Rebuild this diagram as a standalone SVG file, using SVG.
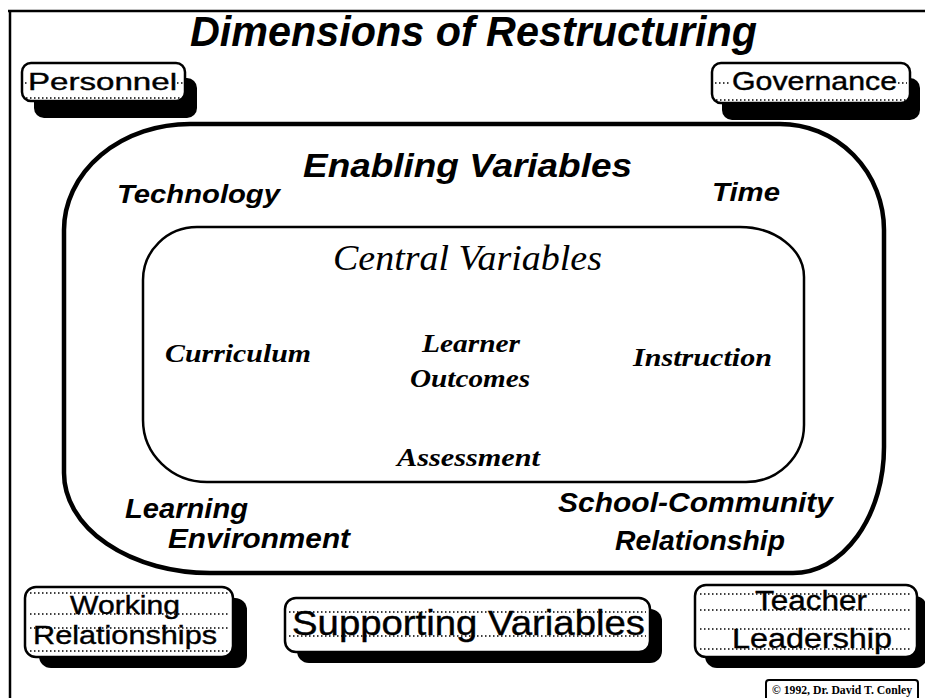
<svg xmlns="http://www.w3.org/2000/svg" width="925" height="698" viewBox="0 0 925 698">
  <style>
    .frame { fill: none; stroke: #000; stroke-width: 2.5; }
    .outer { fill: none; stroke: #000; stroke-width: 4.5; }
    .inner { fill: none; stroke: #000; stroke-width: 2.5; }
    .shadow { fill: #000; }
    .box { fill: #fff; stroke: #000; stroke-width: 2.5; }
    .dots { fill: none; stroke: #000; stroke-width: 1.4; stroke-dasharray: 1.5 2.5; }
    .sansbi { font-family: "Liberation Sans", Arial, sans-serif; font-weight: bold; font-style: italic; fill: #000; }
    .serifi { font-family: "Liberation Serif", "Times New Roman", serif; font-style: italic; fill: #000; }
    .serifbi { font-family: "Liberation Serif", "Times New Roman", serif; font-weight: bold; font-style: italic; fill: #000; }
    .label { font-family: "Liberation Sans", Arial, sans-serif; fill: #000; stroke: #000; stroke-width: 0.4; }
    .copy { font-family: "Liberation Serif", "Times New Roman", serif; font-weight: bold; fill: #000; }
  </style>

  <rect width="925" height="698" fill="#fff"/>

  <!-- page frame -->
  <path class="frame" d="M 8 11 H 925 M 10 10 V 698"/>

  <!-- title -->
  <text id="title" class="sansbi" x="190" y="46" font-size="42" textLength="567" lengthAdjust="spacingAndGlyphs">Dimensions of Restructuring</text>

  <!-- enabling variables ring -->
  <g id="enabling">
    <path class="outer" d="M 190 124 H 780 A 104 106 0 0 1 884 230 V 447 A 91 126 0 0 1 793 573 H 210 A 146 100 0 0 1 64 473 V 230 A 126 106 0 0 1 190 124 Z"/>
    <text class="sansbi" x="303" y="177" font-size="34" textLength="329" lengthAdjust="spacingAndGlyphs">Enabling Variables</text>
    <text class="sansbi" x="117" y="203" font-size="26" textLength="163" lengthAdjust="spacingAndGlyphs">Technology</text>
    <text class="sansbi" x="712" y="201" font-size="26" textLength="68" lengthAdjust="spacingAndGlyphs">Time</text>
    <text class="sansbi" x="125" y="518" font-size="28" textLength="123" lengthAdjust="spacingAndGlyphs">Learning</text>
    <text class="sansbi" x="168" y="548" font-size="28" textLength="182" lengthAdjust="spacingAndGlyphs">Environment</text>
    <text class="sansbi" x="558" y="512" font-size="28" textLength="275" lengthAdjust="spacingAndGlyphs">School-Community</text>
    <text class="sansbi" x="615" y="550" font-size="28" textLength="170" lengthAdjust="spacingAndGlyphs">Relationship</text>
  </g>

  <!-- central variables -->
  <g id="central">
    <path class="inner" d="M 197 227 H 740 A 64 50 0 0 1 804 277 V 425 A 58 57 0 0 1 746 482 H 207 A 64 62 0 0 1 143 420 V 280 A 54 53 0 0 1 197 227 Z"/>
    <text class="serifi" x="333" y="270" font-size="36" textLength="269" lengthAdjust="spacingAndGlyphs">Central Variables</text>
    <text class="serifbi" x="165" y="362" font-size="26" textLength="146" lengthAdjust="spacingAndGlyphs">Curriculum</text>
    <text class="serifbi" x="422" y="352" font-size="26" textLength="98" lengthAdjust="spacingAndGlyphs">Learner</text>
    <text class="serifbi" x="410" y="387" font-size="26" textLength="120" lengthAdjust="spacingAndGlyphs">Outcomes</text>
    <text class="serifbi" x="633" y="366" font-size="26" textLength="139" lengthAdjust="spacingAndGlyphs">Instruction</text>
    <text class="serifbi" x="397" y="466" font-size="26" textLength="143" lengthAdjust="spacingAndGlyphs">Assessment</text>
  </g>

  <!-- supporting variable boxes -->
  <g id="personnel">
    <rect class="shadow" x="34" y="78" width="163" height="40" rx="10"/>
    <rect class="box" x="22" y="63" width="163" height="38" rx="9"/>
    <path class="dots" d="M 25 83 H 29 M 177 83 H 183 M 26 98 H 181"/>
    <text class="label" x="28" y="90" font-size="24" textLength="149" lengthAdjust="spacingAndGlyphs">Personnel</text>
  </g>

  <g id="governance">
    <rect class="shadow" x="722" y="78" width="198" height="42" rx="10"/>
    <rect class="box" x="712" y="63" width="198" height="40" rx="9"/>
    <path class="dots" d="M 715 83 H 731 M 898 83 H 907 M 716 100 H 906"/>
    <text class="label" x="732" y="90" font-size="25" textLength="165" lengthAdjust="spacingAndGlyphs">Governance</text>
  </g>

  <g id="working-relationships">
    <rect class="shadow" x="39" y="598" width="208" height="70" rx="12"/>
    <rect class="box" x="25" y="587" width="208" height="70" rx="11"/>
    <path class="dots" d="M 30 593 H 228 M 30 614 H 228 M 30 628 H 228 M 30 651 H 228"/>
    <text class="label" x="70" y="614" font-size="26" textLength="110" lengthAdjust="spacingAndGlyphs">Working</text>
    <text class="label" x="33" y="644" font-size="26" textLength="184" lengthAdjust="spacingAndGlyphs">Relationships</text>
  </g>

  <g id="supporting-variables">
    <rect class="shadow" x="297" y="609" width="365" height="54" rx="12"/>
    <rect class="box" x="285" y="598" width="365" height="54" rx="11"/>
    <path class="dots" d="M 289 612 H 646 M 289 636 H 646"/>
    <text class="label" x="292" y="635" font-size="35" textLength="353" lengthAdjust="spacingAndGlyphs">Supporting Variables</text>
  </g>

  <g id="teacher-leadership">
    <rect class="shadow" x="705" y="596" width="222" height="72" rx="12"/>
    <rect class="box" x="695" y="585" width="222" height="72" rx="11"/>
    <path class="dots" d="M 700 594 H 912 M 700 610 H 912 M 700 629 H 912 M 700 649 H 912"/>
    <text class="label" x="755" y="610" font-size="27" textLength="112" lengthAdjust="spacingAndGlyphs">Teacher</text>
    <text class="label" x="732" y="648" font-size="27" textLength="160" lengthAdjust="spacingAndGlyphs">Leadership</text>
  </g>

  <!-- credit line -->
  <g id="credit">
    <rect x="766" y="680" width="152" height="22" rx="3" fill="#fff" stroke="#000" stroke-width="2"/>
    <text class="copy" x="772" y="694" font-size="12.5" textLength="140" lengthAdjust="spacingAndGlyphs">© 1992, Dr. David T. Conley</text>
  </g>
</svg>
